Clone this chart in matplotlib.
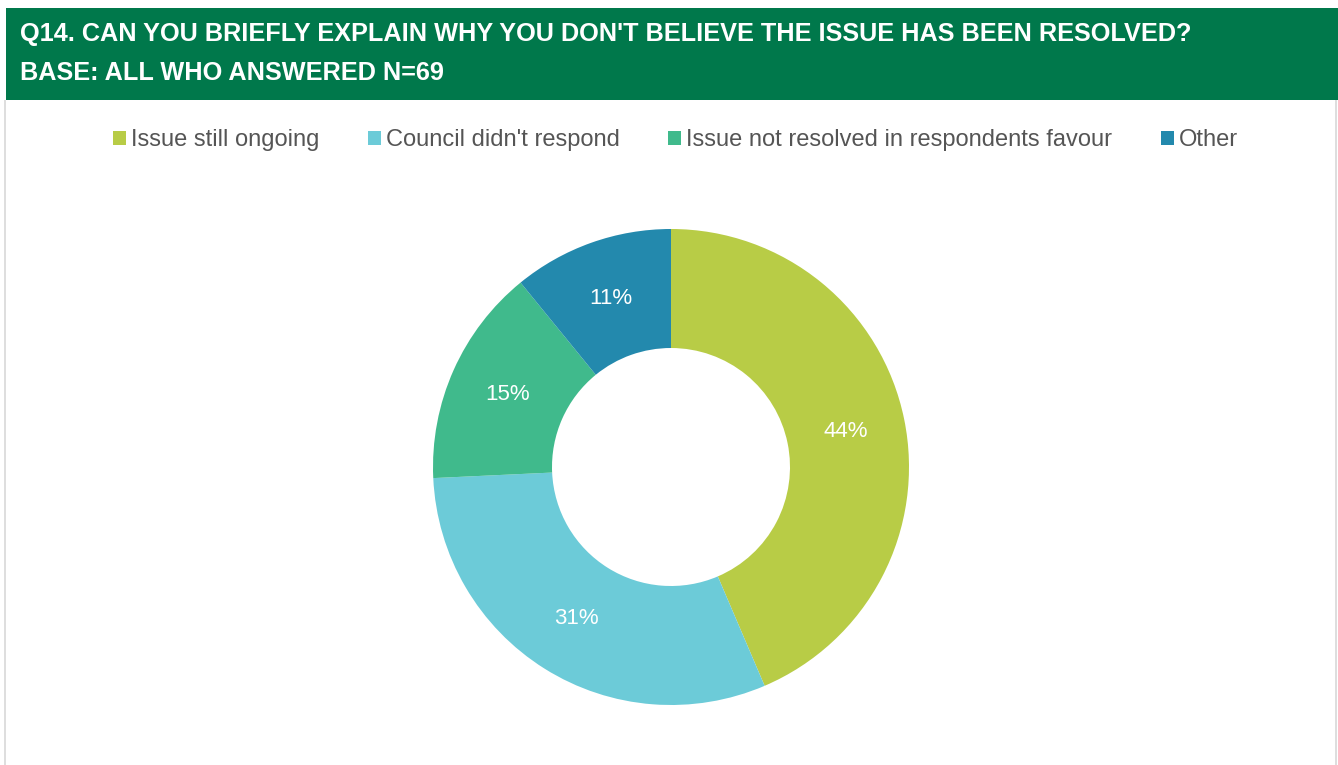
import matplotlib.pyplot as plt
from matplotlib.patches import Patch, Rectangle

plt.rcParams["font.family"] = ["Liberation Sans", "DejaVu Sans"]

TITLE = "Q14. CAN YOU BRIEFLY EXPLAIN WHY YOU DON'T BELIEVE THE ISSUE HAS BEEN RESOLVED?"
SUBTITLE = "BASE: ALL WHO ANSWERED N=69"

categories = [
    "Issue still ongoing",
    "Council didn't respond",
    "Issue not resolved in respondents favour",
    "Other",
]
shares = [44, 31, 15, 11]
colors = ["#b8cc46", "#6ccbd8", "#40ba8c", "#2389ad"]

HEADER_GREEN = "#00784b"
BORDER_GREY = "#dedede"

W, H = 1338, 765
fig = plt.figure(figsize=(W / 100, H / 100), dpi=100)
fig.patch.set_facecolor("white")

# header band and panel borders (pixel units converted to figure fractions)
fig.patches.append(
    Rectangle((6 / W, 1 - 100 / H), (W - 6) / W, 92 / H,
              transform=fig.transFigure, facecolor=HEADER_GREEN, edgecolor="none")
)
for x in (5, 1336):
    fig.patches.append(
        Rectangle(((x - 1) / W, 0), 2 / W, 1 - 100 / H,
                  transform=fig.transFigure, facecolor=BORDER_GREY, edgecolor="none")
    )

fig.text(20 / W, 1 - 41 / H, TITLE, color="white", fontsize=18.2,
         fontweight="bold", va="baseline", ha="left")
fig.text(20 / W, 1 - 80 / H, SUBTITLE, color="white", fontsize=18.2,
         fontweight="bold", va="baseline", ha="left")

# donut
cx, cy, r = 671, 467, 238
ax = fig.add_axes([(cx - r) / W, (H - cy - r) / H, 2 * r / W, 2 * r / H])
wedges, texts, autotexts = ax.pie(
    shares,
    colors=colors,
    startangle=90,
    counterclock=False,
    radius=1.0,
    wedgeprops=dict(width=0.5, edgecolor="none", linewidth=0),
    autopct=lambda p: f"{p * sum(shares) / 100:.0f}%",
    pctdistance=0.75,
    textprops=dict(color="white", fontsize=16),
)
ax.set_xlim(-1, 1)
ax.set_ylim(-1, 1)
ax.set_aspect("equal")
ax.axis("off")

handles = [Patch(facecolor=c, edgecolor="none", label=lab) for c, lab in zip(colors, categories)]
fig.legend(
    handles=handles,
    loc="center",
    bbox_to_anchor=(675.5 / W, 1 - 140 / H),
    ncol=4,
    frameon=False,
    fontsize=17,
    labelcolor="#555555",
    handlelength=0.55,
    handleheight=0.55,
    handletextpad=0.21,
    columnspacing=2.05,
)

fig.savefig("out.png", dpi=100, facecolor="white")
